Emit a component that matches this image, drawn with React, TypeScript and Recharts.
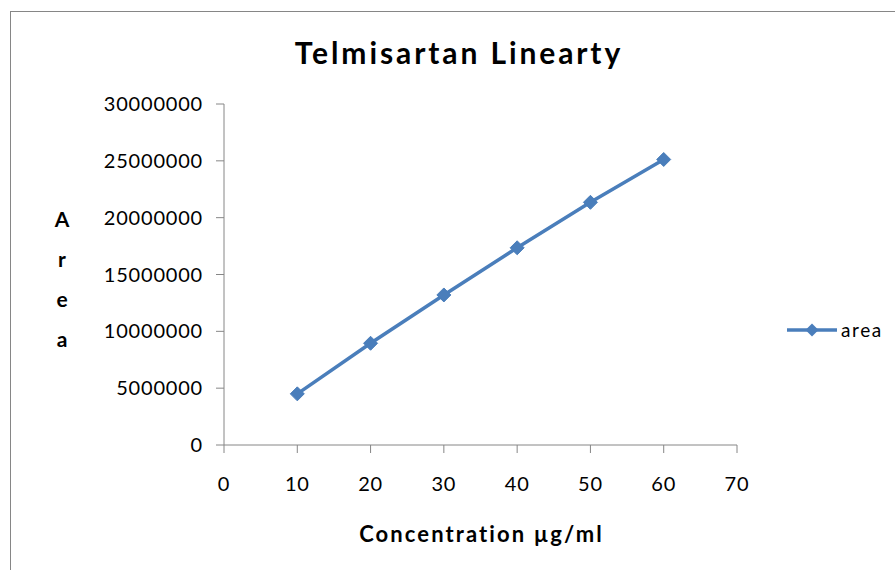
import { Legend, Line, LineChart, XAxis, YAxis } from "recharts";

const concentrations = [10, 20, 30, 40, 50, 60];
const areaValues = [4500000, 8950000, 13200000, 17350000, 21350000, 25120000];
const xTicks = [0, 10, 20, 30, 40, 50, 60, 70];
const yTicks = [0, 5000000, 10000000, 15000000, 20000000, 25000000, 30000000];
const seriesName = "area";
const title = "Telmisartan Linearty";
const xLabel = "Concentration µg/ml";
const yLabelLetters = ["A", "r", "e", "a"];

const data = concentrations.map((c, i) => ({ conc: c, area: areaValues[i] }));

const BLUE = "#4A7EBB";
const AXIS = "#868686";
const FONT = "Lato, 'Open Sans', sans-serif";

function Diamond(props: any) {
  const { cx, cy } = props;
  if (cx == null || cy == null) return null;
  const r = 7;
  return (
    <polygon
      points={`${cx},${cy - r} ${cx + r},${cy} ${cx},${cy + r} ${cx - r},${cy}`}
      fill={BLUE}
      stroke={BLUE}
      strokeWidth={1}
    />
  );
}

function LegendBox() {
  return (
    <div style={{ display: "flex", alignItems: "center", fontFamily: FONT }}>
      <svg width={52} height={20}>
        <line x1={0} y1={10} x2={50} y2={10} stroke={BLUE} strokeWidth={3.5} />
        <polygon points="25,3.5 31.5,10 25,16.5 18.5,10" fill={BLUE} />
      </svg>
      <span style={{ fontSize: 19, letterSpacing: 1.6, color: "#000", marginLeft: 2 }}>
        {seriesName}
      </span>
    </div>
  );
}

export default function App() {
  return (
    <div
      style={{
        position: "fixed",
        left: 0,
        top: 0,
        width: 895,
        height: 570,
        overflow: "hidden",
        background: "#fff",
      }}
    >
      <div
        style={{
          position: "absolute",
          left: 10,
          top: 11,
          width: 1000,
          height: 1000,
          border: `1px solid ${AXIS}`,
        }}
      />
      <div style={{ position: "absolute", left: 0, top: 0 }}>
        <LineChart
          width={895}
          height={570}
          data={data}
          margin={{ top: 104, right: 158, bottom: 85, left: 124 }}
        >
          <XAxis
            dataKey="conc"
            type="number"
            domain={[0, 70]}
            ticks={xTicks}
            height={40}
            stroke={AXIS}
            tickSize={8}
            tickMargin={24}
            tick={{ fill: "#000", fontSize: 20, fontFamily: FONT, letterSpacing: 0.8 }}
          />
          <YAxis
            type="number"
            domain={[0, 30000000]}
            ticks={yTicks}
            width={100}
            stroke={AXIS}
            tickSize={8}
            tickMargin={13}
            tick={{ fill: "#000", fontSize: 20, fontFamily: FONT, letterSpacing: 0.8 }}
          />
          <Legend
            layout="horizontal"
            verticalAlign="middle"
            wrapperStyle={{ left: 787, top: 318, width: 110 }}
            content={() => <LegendBox />}
          />
          <Line
            dataKey="area"
            name={seriesName}
            stroke={BLUE}
            strokeWidth={3.5}
            dot={<Diamond />}
            activeDot={false}
            isAnimationActive={false}
          />
        </LineChart>
      </div>
      <svg
        width={895}
        height={570}
        style={{ position: "absolute", left: 0, top: 0, pointerEvents: "none" }}
      >
        <text
          x={459}
          y={63.5}
          textAnchor="middle"
          fontFamily={FONT}
          fontWeight={700}
          fontSize={30}
          letterSpacing={2.9}
          fill="#000"
        >
          {title}
        </text>
        <text
          x={481.5}
          y={541.5}
          textAnchor="middle"
          fontFamily={FONT}
          fontWeight={700}
          fontSize={22}
          letterSpacing={2.1}
          fill="#000"
        >
          {xLabel}
        </text>
        {yLabelLetters.map((ch, i) => (
          <text
            key={i}
            x={62}
            y={227 + i * 40}
            textAnchor="middle"
            fontFamily={FONT}
            fontWeight={700}
            fontSize={21}
            fill="#000"
          >
            {ch}
          </text>
        ))}
      </svg>
    </div>
  );
}
